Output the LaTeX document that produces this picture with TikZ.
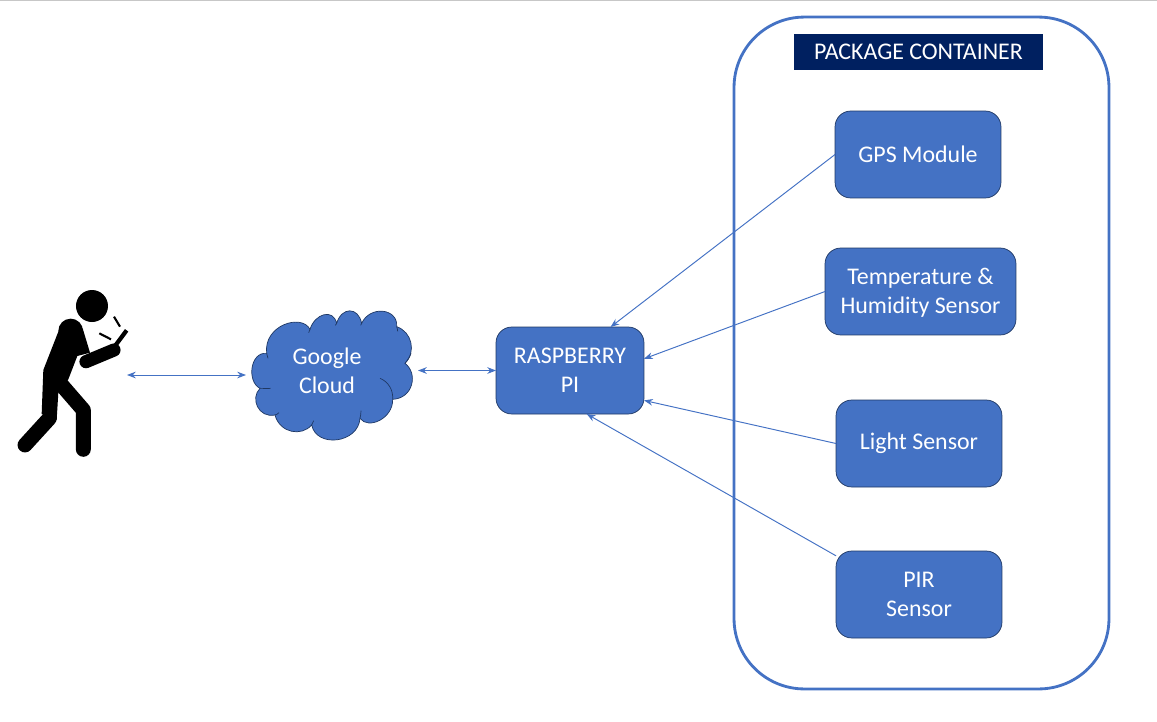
\documentclass[tikz,border=0pt]{standalone}
\usepackage{fontspec}
\setmainfont{Carlito}
\usepackage{xcolor}
\usepackage{tikz}
\usetikzlibrary{arrows.meta, positioning, shapes.misc}
\definecolor{boxblue}{HTML}{4472C4}
\definecolor{boxedge}{HTML}{1F3864}
\definecolor{navy}{HTML}{002060}
\tikzstyle{arrow}     = [line width=0.55pt,boxblue,->,>={Stealth[length=5pt,width=3.8pt]}]
\tikzstyle{biarrow}   = [line width=0.55pt,boxblue,<->,>={Stealth[length=5pt,width=3.8pt]}]
\tikzstyle{block}     = [rectangle, rounded corners=9pt, draw=boxedge, fill=boxblue, text=white, thin, outer sep=0pt, inner sep=0pt, font=\fontsize{13.6}{16.4}\selectfont]
\tikzstyle{limb}      = [black, line cap=round, line join=round]
\tikzset{every node/.style={align=center}}

\begin{document}
\begin{tikzpicture}[x=0.02cm,y=-0.02cm]
    \useasboundingbox (0,0) rectangle (1157,721);
    \draw [black!22, line width=0.8pt] (0,0.5) -- (1157,0.5);

    % container
    \node (box) at (921.5,353) [rectangle, draw=boxblue, line width=1.6pt, rounded corners=40pt, minimum width=7.5cm, minimum height=13.44cm] {};
    \node (head) at (918.5,52) [fill=navy, text=white, minimum width=4.98cm, minimum height=0.72cm, inner sep=0pt, font=\fontsize{13.6}{16.4}\selectfont] {PACKAGE CONTAINER};

    \node (gps)  at (918,154.5)   [block, minimum width=3.32cm, minimum height=1.74cm] {GPS Module};
    \node (temp) at (920.5,291.5) [block, minimum width=3.82cm, minimum height=1.74cm] {\rule{0pt}{11pt}Temperature \&\\Humidity Sensor};
    \node (lite) at (919,443.5)   [block, minimum width=3.32cm, minimum height=1.74cm] {Light Sensor};
    \node (pir)  at (919,594.5)   [block, minimum width=3.32cm, minimum height=1.74cm] {PIR\\ Sensor};
    \node (pi)   at (570,370.5)   [block, minimum width=2.96cm, minimum height=1.74cm] {RASPBERRY\\PI};

    % cloud
    \begin{scope}[shift={(230,290)},x=0.00667cm,y=-0.00667cm]
        \draw [fill=boxblue, draw=boxedge, thin]
            (110,190) .. controls (100,105) and (215,70) .. (240,118)
            .. controls (255,70) and (310,55) .. (320,100)
            .. controls (335,50) and (385,50) .. (395,100)
            .. controls (420,45) and (505,55) .. (500,110)
            .. controls (545,125) and (560,185) .. (525,220)
            .. controls (565,250) and (550,325) .. (488,328)
            .. controls (490,385) and (415,420) .. (390,385)
            .. controls (385,460) and (260,475) .. (245,405)
            .. controls (215,440) and (150,430) .. (135,375)
            .. controls (85,385) and (60,325) .. (90,295)
            .. controls (50,275) and (60,185) .. (110,190) -- cycle;
        \draw [draw=boxedge, thin] (450,265) .. controls (475,275) and (490,300) .. (488,328);
        \draw [draw=boxedge, thin] (90,295) .. controls (100,295) and (112,296) .. (122,295);
        \draw [draw=boxedge, thin] (110,190) .. controls (111,195) and (112,200) .. (114,205);
        \draw [draw=boxedge, thin] (240,118) .. controls (239,122) and (238,124) .. (236,128);
        \draw [draw=boxedge, thin] (320,100) .. controls (319,103) and (318,105) .. (316,106);
        \draw [draw=boxedge, thin] (395,100) .. controls (394,102) and (393,104) .. (392,106);
        \draw [draw=boxedge, thin] (500,110) .. controls (502,115) and (503,120) .. (503,124);
        \draw [draw=boxedge, thin] (525,220) .. controls (533,210) and (540,200) .. (543,190);
        \draw [draw=boxedge, thin] (390,385) .. controls (392,378) and (393,370) .. (393,362);
        \draw [draw=boxedge, thin] (245,405) .. controls (247,400) and (249,396) .. (251,392);
        \draw [draw=boxedge, thin] (135,375) .. controls (139,374) and (143,372) .. (147,368);
    \end{scope}
    \node (cloud) at (327,371) [text=white, font=\fontsize{13.6}{16.4}\selectfont] {Google\\Cloud};

    % person
    \begin{scope}[shift={(0,270)},x=0.00667cm,y=-0.00667cm]
        \fill [black] (276,108) circle (48);
        \fill [black] (212,183) circle (37);
        \fill [black] (175,185) -- (130,300) -- (125,432) -- (170,450) -- (175,368)
            -- (205,328) -- (232,258) -- (270,248) -- (248,175) -- cycle;
        \draw [limb, line width=8.5pt] (75,525) -- (148,445);
        \draw [limb, line width=8.5pt] (185,345) -- (250,420) -- (250,538);
        \draw [limb, line width=7.5pt] (258,275) -- (342,240);
        \draw [black, line width=2.4pt] (345,228) -- (380,181);
        \draw [black, line width=1.2pt] (298,190) -- (333,208);
        \draw [black, line width=1.2pt] (342,140) -- (360,170);
    \end{scope}

    \coordinate (phone)   at (127,375);
    \coordinate (cloudw)  at (246,375);
    \coordinate (cloude)  at (418,370.5);

    \draw [biarrow] (phone) -- (cloudw);
    \draw [biarrow] (cloude) -- (pi.west);
    \draw [arrow] (gps.west)  -- (pi.47);
    \draw [arrow] (temp.west) -- (pi.9.6);
    \draw [arrow] (lite.west) -- (pi.-22.4);
    \draw [arrow] (pir.155)   -- (pi.-69);
\end{tikzpicture}
\end{document}
